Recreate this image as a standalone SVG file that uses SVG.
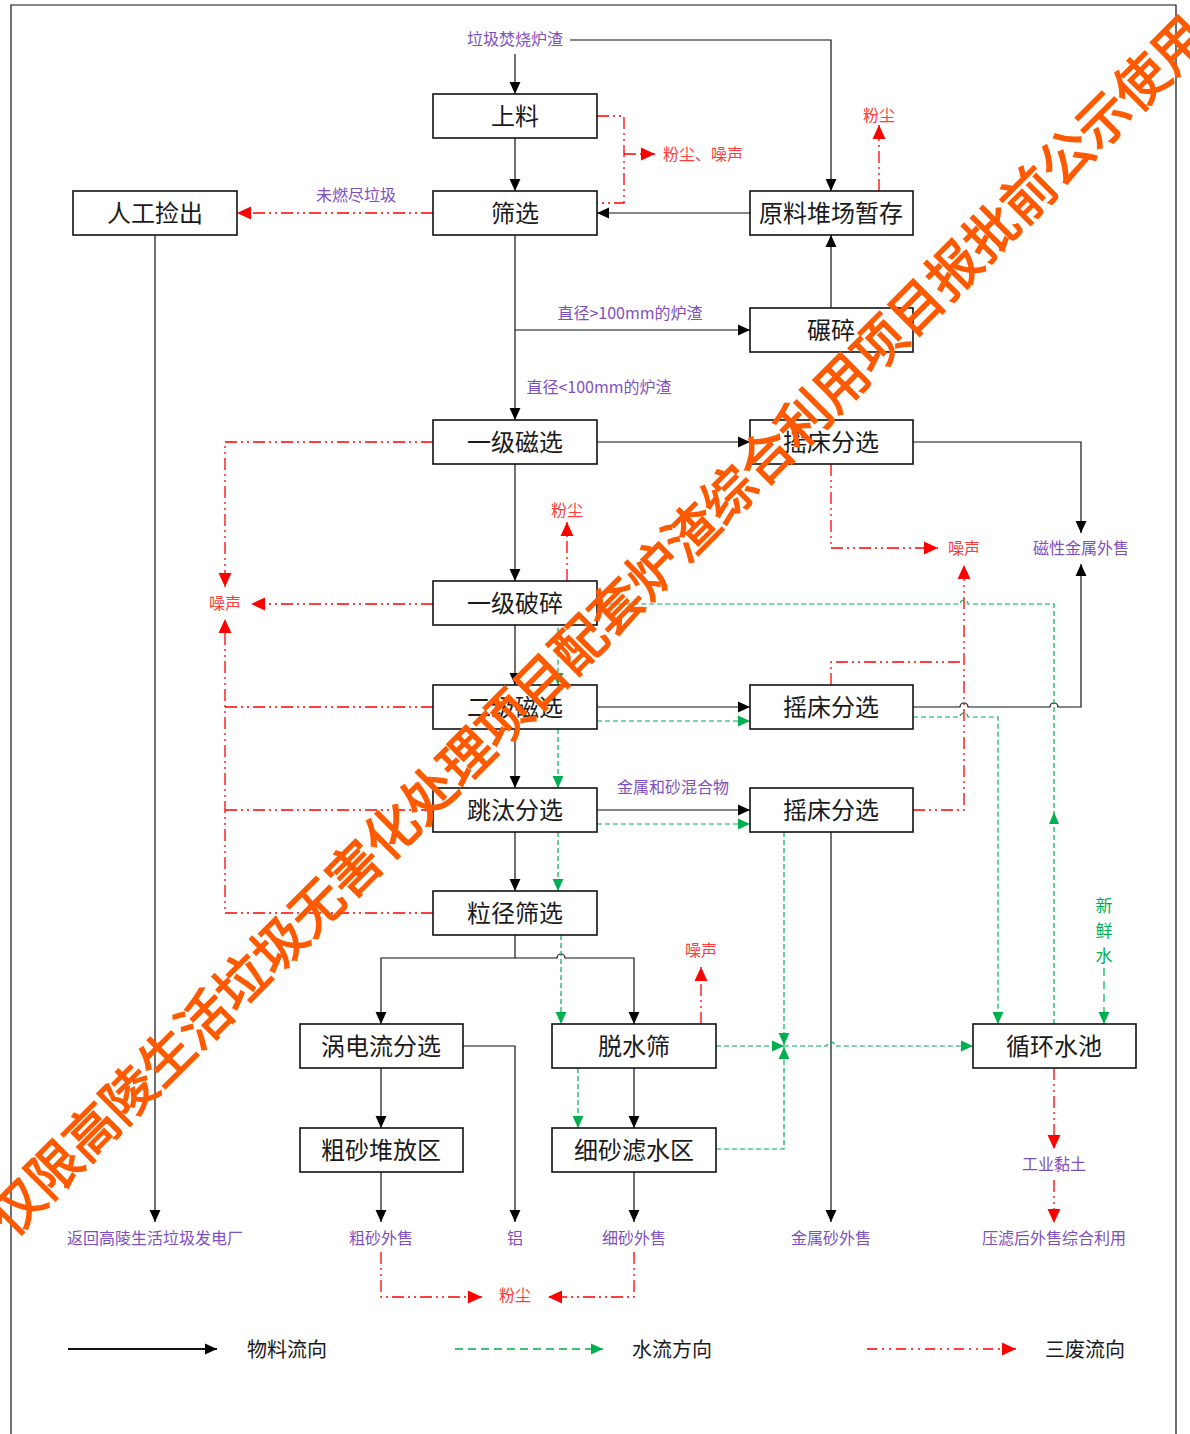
<svg xmlns="http://www.w3.org/2000/svg" width="1190" height="1434" viewBox="0 0 1190 1434">
<style>
text{font-family:"Noto Sans CJK SC","Noto Sans",sans-serif;}
.box{fill:#fff;stroke:#111;stroke-width:1.6;}
.bt{font-size:24px;fill:#1a1a1a;text-anchor:middle;dominant-baseline:central;}
.lp{font-size:16px;fill:#7f4fc0;text-anchor:middle;dominant-baseline:central;}
.lr{font-size:16px;fill:#ff3b3b;text-anchor:middle;dominant-baseline:central;}
.lg{font-size:20px;fill:#1a1a1a;dominant-baseline:central;}
.nw{font-size:17px;fill:#00b050;text-anchor:middle;dominant-baseline:central;}
.m{fill:none;stroke:#111;stroke-width:1.2;}
.w{fill:none;stroke:#00b050;stroke-width:1.2;stroke-dasharray:5 3;}
.r{fill:none;stroke:#ff0000;stroke-width:1.3;stroke-dasharray:12 4 2 4 2 4;}
.am{marker-end:url(#aB);}
.aw{marker-end:url(#aG);}
.ar{marker-end:url(#aR);}
</style>
<defs>
<marker id="aB" markerUnits="userSpaceOnUse" markerWidth="12" markerHeight="12" refX="11" refY="5" orient="auto-start-reverse" viewBox="0 0 11 10"><path d="M0,0 L11,5 L0,10 z" fill="#000"/></marker>
<marker id="aG" markerUnits="userSpaceOnUse" markerWidth="12" markerHeight="12" refX="11" refY="5" orient="auto" viewBox="0 0 11 10"><path d="M0,0 L11,5 L0,10 z" fill="#00b050"/></marker>
<marker id="aR" markerUnits="userSpaceOnUse" markerWidth="14" markerHeight="14" refX="13" refY="6" orient="auto" viewBox="0 0 13 12"><path d="M0,0 L13,6 L0,12 z" fill="#ff0000"/></marker>
</defs>
<rect width="1190" height="1434" fill="#fff"/>
<path d="M11,1434 V5 H1176 V1434" fill="none" stroke="#111" stroke-width="1.2"/>

<g id="connectors">
<g id="material">
<path class="m am" d="M515,54 V94"/>
<path class="m am" d="M570,40 H831 V191"/>
<path class="m am" d="M515,138 V191"/>
<path class="m am" d="M750,213 H597"/>
<path class="m am" d="M515,235 V420"/>
<path class="m am" d="M515,330 H750"/>
<path class="m am" d="M831,308 V235"/>
<path class="m am" d="M155,235 V1222"/>
<path class="m am" d="M597,442 H750"/>
<path class="m am" d="M913,442 H1081 V533"/>
<path class="m am" d="M515,464 V581"/>
<path class="m am" d="M515,625 V685"/>
<path class="m am" d="M597,707 H750"/>
<path class="m am" d="M913,707 H960 a4,4 0 0 1 8,0 H1050 a4,4 0 0 1 8,0 H1081 V564"/>
<path class="m am" d="M515,729 V788"/>
<path class="m am" d="M597,810 H750"/>
<path class="m am" d="M515,832 V891"/>
<path class="m" d="M515,935 V958"/>
<path class="m am" d="M381,1024 V958 H557 a4,4 0 0 1 8,0 H634 V1024" style="marker-start:url(#aB)"/>
<path class="m am" d="M381,1068 V1128"/>
<path class="m am" d="M463,1046 H515 V1222"/>
<path class="m am" d="M381,1172 V1222"/>
<path class="m am" d="M634,1068 V1128"/>
<path class="m am" d="M634,1172 V1222"/>
<path class="m am" d="M831,832 V1222"/>
</g>
<g id="water">
<path class="w aw" d="M1054,1024 V604 H968 a4,4 0 0 0 -8,0 H558 V685"/>
<polygon points="1054,812 1049,824 1059,824" fill="#00b050"/>
<path class="w aw" d="M597,721 H750"/>
<path class="w aw" d="M558,729 V788"/>
<path class="w aw" d="M597,824 H750"/>
<path class="w aw" d="M558,832 V891"/>
<path class="w aw" d="M561,935 V1024"/>
<path class="w aw" d="M913,717 H960 a4,4 0 0 1 8,0 H998 V1024"/>
<path class="w aw" d="M784,832 V1045"/>
<path class="w aw" d="M716,1046 H784"/>
<path class="w aw" d="M784,1046 H827 a4,4 0 0 1 8,0 H973"/>
<path class="w aw" d="M716,1149 H784 V1047"/>
<path class="w aw" d="M578,1068 V1128"/>
<path class="w aw" d="M1104,968 V1024" style="stroke-dasharray:8 5"/>
</g>
<g id="waste">
<path class="r" d="M597,116 H624 V203 H597"/>
<path class="r ar" d="M624,154 H655"/>
<path class="r ar" d="M879,191 V125"/>
<path class="r ar" d="M433,213 H237"/>
<path class="r ar" d="M433,442 H225 V587"/>
<path class="r ar" d="M433,604 H251"/>
<path class="r ar" d="M567,581 V522"/>
<path class="r" d="M433,707 H225"/>
<path class="r" d="M433,810 H225"/>
<path class="r ar" d="M433,913 H225 V619"/>
<path class="r ar" d="M831,464 V548 H938"/>
<path class="r" d="M831,685 V662 H964"/>
<path class="r ar" d="M913,810 H964 V565"/>
<path class="r ar" d="M701,1024 V967"/>
<path class="r ar" d="M1054,1068 V1149"/>
<path class="r ar" d="M1054,1180 V1223"/>
<path class="r ar" d="M381,1252 V1297 H482"/>
<path class="r ar" d="M634,1252 V1297 H548"/>
</g>
</g>

<g id="n-shangliao"><rect class="box" x="433" y="94" width="164" height="44"/><text class="bt" x="515" y="114">上料</text></g>
<g id="n-shaixuan"><rect class="box" x="433" y="191" width="164" height="44"/><text class="bt" x="515" y="211">筛选</text></g>
<g id="n-rengong"><rect class="box" x="73" y="191" width="164" height="44"/><text class="bt" x="155" y="211">人工捡出</text></g>
<g id="n-yuanliao"><rect class="box" x="750" y="191" width="163" height="44"/><text class="bt" x="831" y="211">原料堆场暂存</text></g>
<g id="n-niansui"><rect class="box" x="750" y="308" width="163" height="44"/><text class="bt" x="831" y="328">碾碎</text></g>
<g id="n-cixuan1"><rect class="box" x="433" y="420" width="164" height="44"/><text class="bt" x="515" y="440">一级磁选</text></g>
<g id="n-yaochuang1"><rect class="box" x="750" y="420" width="163" height="44"/><text class="bt" x="831" y="440">摇床分选</text></g>
<g id="n-posui1"><rect class="box" x="433" y="581" width="164" height="44"/><text class="bt" x="515" y="601">一级破碎</text></g>
<g id="n-cixuan2"><rect class="box" x="433" y="685" width="164" height="44"/><text class="bt" x="515" y="705">二级磁选</text></g>
<g id="n-yaochuang2"><rect class="box" x="750" y="685" width="163" height="44"/><text class="bt" x="831" y="705">摇床分选</text></g>
<g id="n-tiaotai"><rect class="box" x="433" y="788" width="164" height="44"/><text class="bt" x="515" y="808">跳汰分选</text></g>
<g id="n-yaochuang3"><rect class="box" x="750" y="788" width="163" height="44"/><text class="bt" x="831" y="808">摇床分选</text></g>
<g id="n-lijing"><rect class="box" x="433" y="891" width="164" height="44"/><text class="bt" x="515" y="911">粒径筛选</text></g>
<g id="n-woliu"><rect class="box" x="300" y="1024" width="163" height="44"/><text class="bt" x="381" y="1044">涡电流分选</text></g>
<g id="n-tuoshui"><rect class="box" x="552" y="1024" width="164" height="44"/><text class="bt" x="634" y="1044">脱水筛</text></g>
<g id="n-xunhuan"><rect class="box" x="973" y="1024" width="163" height="44"/><text class="bt" x="1054" y="1044">循环水池</text></g>
<g id="n-cusha"><rect class="box" x="300" y="1128" width="163" height="44"/><text class="bt" x="381" y="1148">粗砂堆放区</text></g>
<g id="n-xisha"><rect class="box" x="552" y="1128" width="164" height="44"/><text class="bt" x="634" y="1148">细砂滤水区</text></g>

<g id="labels">
<text class="lp" x="515" y="38">垃圾焚烧炉渣</text>
<text class="lp" x="356" y="194">未燃尽垃圾</text>
<text class="lp" x="630" y="312">直径&gt;100mm的炉渣</text>
<text class="lp" x="599" y="386">直径&lt;100mm的炉渣</text>
<text class="lp" x="673" y="786">金属和砂混合物</text>
<text class="lp" x="1081" y="547">磁性金属外售</text>
<text class="lp" x="155" y="1237">返回高陵生活垃圾发电厂</text>
<text class="lp" x="381" y="1237">粗砂外售</text>
<text class="lp" x="515" y="1237">铝</text>
<text class="lp" x="634" y="1237">细砂外售</text>
<text class="lp" x="831" y="1237">金属砂外售</text>
<text class="lp" x="1054" y="1237">压滤后外售综合利用</text>
<text class="lp" x="1054" y="1163">工业黏土</text>
<text class="lr" x="879" y="114">粉尘</text>
<text class="lr" x="703" y="153">粉尘、噪声</text>
<text class="lr" x="567" y="509">粉尘</text>
<text class="lr" x="964" y="547">噪声</text>
<text class="lr" x="225" y="602">噪声</text>
<text class="lr" x="701" y="949">噪声</text>
<text class="lr" x="515" y="1294">粉尘</text>
<text class="nw" x="1104" y="904">新</text>
<text class="nw" x="1104" y="929">鲜</text>
<text class="nw" x="1104" y="954">水</text>
</g>

<g id="legend">
<path d="M68,1349 H217" fill="none" stroke="#111" stroke-width="2" marker-end="url(#aB)"/>
<text class="lg" x="247" y="1348">物料流向</text>
<path d="M455,1349 H603" fill="none" stroke="#00b050" stroke-width="1.6" stroke-dasharray="8 5" marker-end="url(#aG)"/>
<text class="lg" x="632" y="1348">水流方向</text>
<path d="M867,1349 H1016" fill="none" stroke="#ff0000" stroke-width="1.5" stroke-dasharray="10 5 2 5 2 5" marker-end="url(#aR)"/>
<text class="lg" x="1045" y="1348">三废流向</text>
</g>

<g id="watermark">
<text x="595" y="623" transform="rotate(-45 595 623)" text-anchor="middle" dominant-baseline="central" textLength="1696" lengthAdjust="spacing" style="font-size:53px;fill:#ff5a00;stroke:#ff5a00;stroke-width:1.6">仅限高陵生活垃圾无害化处理项目配套炉渣综合利用项目报批前公示使用</text>
</g>
</svg>
